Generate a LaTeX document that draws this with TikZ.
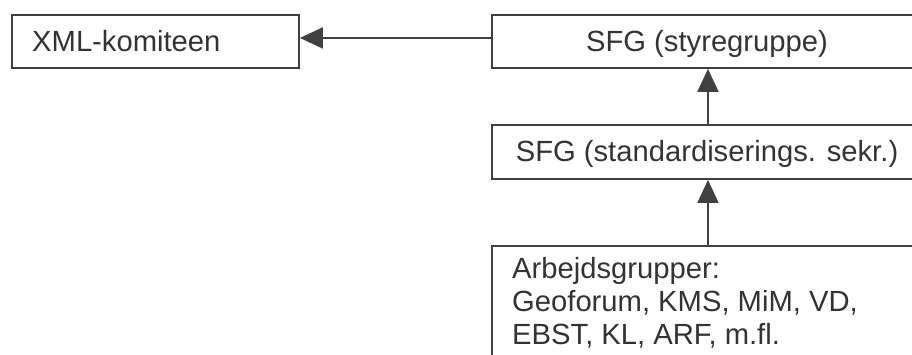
\documentclass[tikz,border=0pt]{standalone}
\usepackage{fontspec}
\setmainfont{Liberation Sans}
\usetikzlibrary{arrows.meta}
\definecolor{ln}{HTML}{404040}
\definecolor{tx}{HTML}{333333}
\begin{document}
\begin{tikzpicture}[x=1pt,y=1pt,
  box/.style={draw=ln, line width=1.9pt, inner sep=0pt, minimum width=432pt},
  lbl/.style={text=tx, font=\fontsize{29.2}{33}\selectfont, inner sep=0pt},
  conn/.style={draw=ln, line width=1.9pt, -{Triangle[length=23pt,width=21pt]}}]
\useasboundingbox (0,0) rectangle (912,-354);
\clip (0,0) rectangle (912,-354);
\node[box, minimum width=287pt, minimum height=53pt, anchor=north west] (xml) at (11,-14) {};
\node[box, minimum height=53pt, anchor=north west] (sfg) at (491,-14) {};
\node[box, minimum height=54pt, anchor=north west] (sek) at (491,-124) {};
\node[box, minimum height=140pt, anchor=north west] (arb) at (491,-245) {};
\node[lbl, anchor=base west] (xmlt) at (32,-51.5) {XML-komiteen};
\node[lbl, anchor=base] (sfgt) at (707,-51.5) {SFG (styregruppe)};
\node[lbl, anchor=base] (sekt) at (707,-161.5) {SFG (standardiserings. sekr.)};
\node[lbl, anchor=base west] (arb1) at (512,-278) {Arbejdsgrupper:};
\node[lbl, anchor=base west] (arb2) at (512,-311) {Geoforum, KMS, MiM, VD,};
\node[lbl, anchor=base west] (arb3) at (512,-344) {EBST, KL, ARF, m.fl.};
\draw[conn] ([yshift=3.5pt]sfg.west) -- ([yshift=3.5pt]xml.east);
\draw[conn] (sek.north) -- (sfg.south);
\draw[conn] (arb.north) -- (sek.south);
\end{tikzpicture}
\end{document}
